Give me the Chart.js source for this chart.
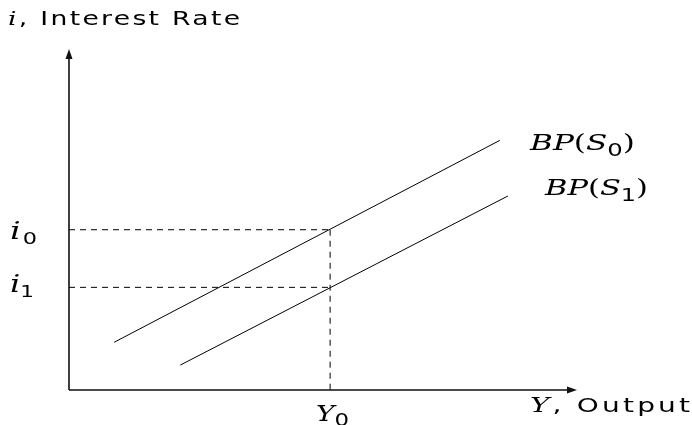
<!DOCTYPE html>
<html>
<head>
<meta charset="utf-8">
<script src="https://cdn.jsdelivr.net/npm/chart.js@4"></script>
<style>
  html, body { margin: 0; padding: 0; background: #fff; }
  #wrap { width: 692px; height: 425px; }
</style>
</head>
<body>
<div id="wrap"><canvas id="bpChart"></canvas></div>
<script>
// BP curves before and after the shift (output, interest rate)
const bpS0 = [{ x: 8.9, y: 14.0 }, { x: 84.8, y: 73.2 }];
const bpS1 = [{ x: 21.9, y: 7.3 }, { x: 86.4, y: 56.9 }];

// equilibrium output and the two interest rates
const outputY0 = 51.4;
const rateI0 = 47.0;
const rateI1 = 30.1;

const SERIF = '"DejaVu Serif", "Liberation Serif", serif';
const SANS = '"DejaVu Sans", "Liberation Sans", sans-serif';

function runFont(r, size) {
    if (r[1] === 'it') return 'italic ' + Math.round(size * (r[2] || 1)) + 'px ' + SERIF;
    if (r[1] === 'rm') return size + 'px ' + SERIF;
    if (r[1] === 'sub') return Math.round(size * 0.8) + 'px ' + SANS;
    return Math.round(size * (r[2] || 1)) + 'px ' + SANS;
}

// draws runs like [['i', 'it'], ['0', 'sub']] from x on baseline y,
// widened (stretch first, then letter spacing) to `width`
function drawRuns(ctx, runs, x, y, size, width) {
    let natural = 0, chars = 0;
    runs.forEach(r => {
        ctx.font = runFont(r, size);
        natural += ctx.measureText(r[0]).width;
        chars += r[0].length;
    });
    const sx = Math.max(1, Math.min(1.4, width / natural));
    const gap = Math.max(0, (width - natural * sx) / Math.max(1, chars - 1) / sx);
    ctx.save();
    ctx.translate(x, y);
    ctx.scale(sx, 1);
    let cx = 0;
    runs.forEach(r => {
        ctx.font = runFont(r, size);
        ctx.letterSpacing = gap.toFixed(2) + 'px';
        const dy = r[1] === 'sub' ? size * 0.24 : 0;
        ctx.fillText(r[0], cx, dy);
        cx += ctx.measureText(r[0]).width;
    });
    ctx.restore();
}

const diagramPlugin = {
    id: 'diagram',
    afterDatasetsDraw(chart) {
        const ctx = chart.ctx;
        const xs = chart.scales.x, ys = chart.scales.y;
        const left = xs.getPixelForValue(xs.min);
        const right = xs.getPixelForValue(xs.max);
        const bottom = ys.getPixelForValue(ys.min);
        const top = ys.getPixelForValue(ys.max);
        ctx.save();

        // axes with arrow heads
        ctx.strokeStyle = '#111';
        ctx.fillStyle = '#111';
        ctx.lineWidth = 1.6;
        ctx.beginPath();
        ctx.moveTo(left, bottom);
        ctx.lineTo(left, top + 6);
        ctx.moveTo(left, bottom);
        ctx.lineTo(right - 6, bottom);
        ctx.stroke();
        ctx.beginPath();
        ctx.moveTo(left, top);
        ctx.lineTo(left - 3.5, top + 10);
        ctx.lineTo(left + 3.5, top + 10);
        ctx.closePath();
        ctx.fill();
        ctx.beginPath();
        ctx.moveTo(right, bottom);
        ctx.lineTo(right - 10, bottom - 3.5);
        ctx.lineTo(right - 10, bottom + 3.5);
        ctx.closePath();
        ctx.fill();

        // axis titles
        ctx.fillStyle = '#000';
        ctx.textBaseline = 'alphabetic';
        drawRuns(ctx, [['i', 'it'], [', Interest Rate', 'sf', 1]], 8, 25, 19, 232);
        drawRuns(ctx, [['Y', 'it', 1.05], [', Output', 'sf', 1]], 530, 412, 20, 160);

        // marks on the axes
        const yI0 = ys.getPixelForValue(rateI0);
        const yI1 = ys.getPixelForValue(rateI1);
        drawRuns(ctx, [['i', 'it', 1.2], ['0', 'sub']], 10, yI0 + 9, 20, 27);
        drawRuns(ctx, [['i', 'it', 1.2], ['1', 'sub']], 10, yI1 + 5, 20, 24);
        const xY0 = xs.getPixelForValue(outputY0);
        drawRuns(ctx, [['Y', 'it'], ['0', 'sub']], xY0 - 14, bottom + 31, 22, 33);

        // curve labels
        drawRuns(ctx, [['BP', 'it'], ['(', 'rm'], ['S', 'it'], ['0', 'sub'], [')', 'rm']],
            530, 150, 23, 105);
        drawRuns(ctx, [['BP', 'it'], ['(', 'rm'], ['S', 'it'], ['1', 'sub'], [')', 'rm']],
            545, 195, 23, 103);
        ctx.restore();
    }
};

new Chart(document.getElementById('bpChart'), {
    type: 'scatter',
    data: {
        datasets: [
            { data: bpS0, showLine: true, borderColor: '#000', borderWidth: 1, pointRadius: 0 },
            { data: bpS1, showLine: true, borderColor: '#000', borderWidth: 1, pointRadius: 0 },
            // dashed guides to the axes
            { data: [{ x: 0, y: rateI0 }, { x: outputY0, y: rateI0 }], showLine: true,
              borderColor: '#000', borderWidth: 1, borderDash: [6, 5], pointRadius: 0 },
            { data: [{ x: 0, y: rateI1 }, { x: outputY0, y: rateI1 }], showLine: true,
              borderColor: '#000', borderWidth: 1, borderDash: [6, 5], pointRadius: 0 },
            { data: [{ x: outputY0, y: rateI0 }, { x: outputY0, y: 0 }], showLine: true,
              borderColor: '#000', borderWidth: 1, borderDash: [6, 5], pointRadius: 0 }
        ]
    },
    options: {
        responsive: true,
        maintainAspectRatio: false,
        animation: false,
        layout: { padding: { left: 69, right: 115, top: 49, bottom: 35 } },
        plugins: { legend: { display: false }, tooltip: { enabled: false } },
        scales: {
            x: { type: 'linear', min: 0, max: 100, display: false },
            y: { type: 'linear', min: 0, max: 100, display: false }
        }
    },
    plugins: [diagramPlugin]
});
</script>
</body>
</html>
